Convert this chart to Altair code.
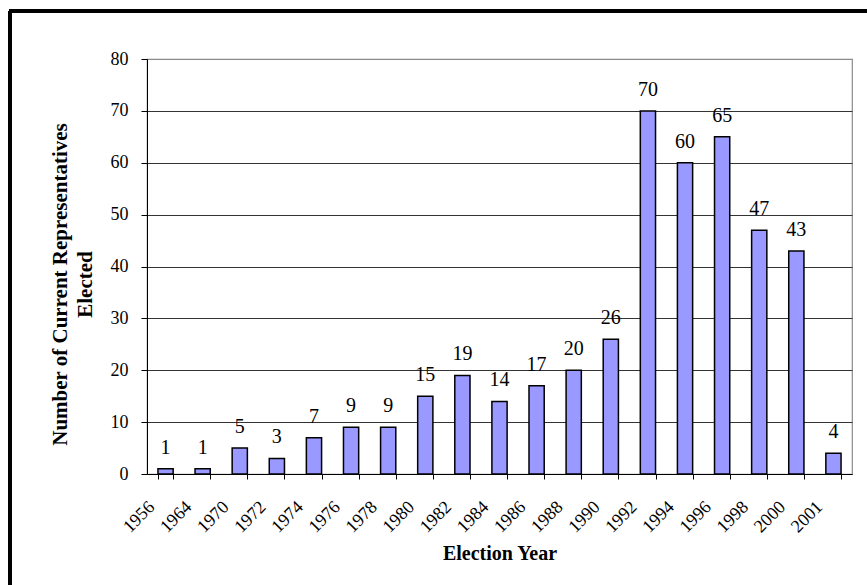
import altair as alt
import pandas as pd

years = ["1956", "1964", "1970", "1972", "1974", "1976", "1978", "1980", "1982",
         "1984", "1986", "1988", "1990", "1992", "1994", "1996", "1998", "2000", "2001"]
counts = [1, 1, 5, 3, 7, 9, 9, 15, 19, 14, 17, 20, 26, 70, 60, 65, 47, 43, 4]
y_ticks = [0, 10, 20, 30, 40, 50, 60, 70, 80]

df = pd.DataFrame({"year": years, "count": counts})

SERIF = "Liberation Serif"
W, H = 705, 415

x_enc = alt.X("year:N", sort=years,
              scale=alt.Scale(paddingInner=0.59, paddingOuter=0.295),
              axis=alt.Axis(title="Election Year", labelAngle=-45, labelAlign="right",
                            labelBaseline="middle", labelPadding=25, labelOffset=-14,
                            tickBand="extent", tickSize=5, tickColor="black",
                            domainColor="black", labelFont=SERIF, labelFontSize=18,
                            labelColor="black", titleFont=SERIF, titleFontSize=20,
                            titleFontWeight="bold", titleColor="black",
                            titleY=79, titleBaseline="middle", grid=False))
y_enc = alt.Y("count:Q", scale=alt.Scale(domain=[0, 80], nice=False),
              axis=alt.Axis(values=y_ticks, title=["Number of Current Representatives", "Elected"],
                            tickSize=6, tickColor="black", domainColor="black",
                            labelPadding=13, labelFont=SERIF, labelFontSize=18,
                            labelColor="black", titleFont=SERIF, titleFontSize=21,
                            titleFontWeight="bold", titleColor="black",
                            titleAngle=-90, titleX=-87, titleY=225,
                            titleAlign="center", titleBaseline="middle",
                            titleLineHeight=25, grid=True,
                            gridColor={"condition": {"test": "datum.value === 80", "value": "#8a8a8a"},
                                       "value": "#333333"},
                            gridWidth=1))

bars = alt.Chart(df).mark_bar(color="#9999FF", stroke="black", strokeWidth=1.5).encode(
    x=x_enc, y=y_enc)

labels = alt.Chart(df).mark_text(font=SERIF, fontSize=20, color="black",
                                 baseline="alphabetic", dy=-15).encode(
    x=alt.X("year:N", sort=years), y="count:Q", text="count:Q")

frame_left = alt.Chart(df).mark_rule(color="black", strokeWidth=2.5).encode(
    x=alt.value(-137), y=alt.value(-48), y2=alt.value(H + 200))
frame_top = alt.Chart(df).mark_rule(color="black", strokeWidth=2.5).encode(
    x=alt.value(-138), x2=alt.value(W + 200), y=alt.value(-48))

chart = alt.layer(bars, labels, frame_left, frame_top).properties(
    width=W, height=H,
    autosize=alt.AutoSizeParams(type="none"),
    padding={"left": 147, "top": 59, "right": 15, "bottom": 111},
    background="white",
).configure_view(stroke="#8a8a8a", strokeWidth=1.2)

chart.save("out.html", embed_options={"renderer": "svg", "actions": False})
